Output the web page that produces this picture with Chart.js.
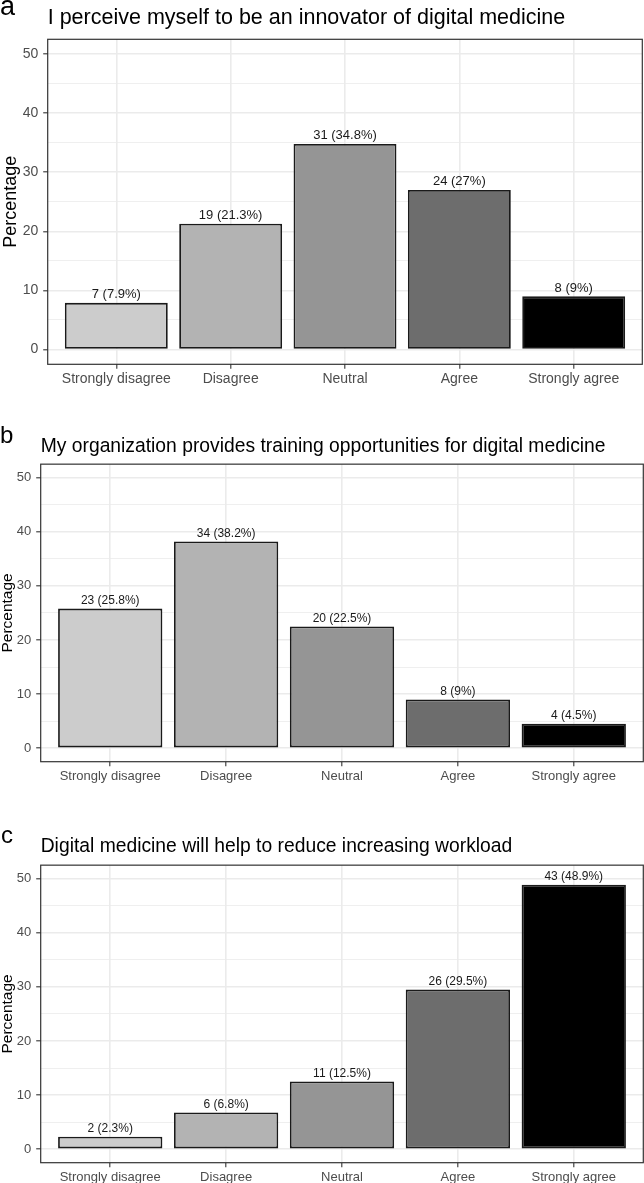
<!DOCTYPE html>
<html>
<head>
<meta charset="utf-8">
<script src="https://cdn.jsdelivr.net/npm/chart.js@4/dist/chart.umd.min.js"></script>
<style>
  body { margin: 0; background: #fff; width: 644px; height: 1183px; position: relative; overflow: hidden; }
  canvas { position: absolute; left: 0; }
</style>
</head>
<body>
<canvas id="chartA" width="644" height="392" style="top:0px"></canvas>
<canvas id="chartB" width="644" height="392" style="top:392px"></canvas>
<canvas id="chartC" width="644" height="399" style="top:784px"></canvas>
<script>
// data
const categories = ["Strongly disagree", "Disagree", "Neutral", "Agree", "Strongly agree"];
const barColors = ["#CCCCCC", "#B3B3B3", "#959595", "#6D6D6D", "#000000"];
const yTicks = [0, 10, 20, 30, 40, 50];

const titleA = "I perceive myself to be an innovator of digital medicine";
const countsA = [7, 19, 31, 24, 8];
const percentA = [7.9, 21.3, 34.8, 27, 9];

const titleB = "My organization provides training opportunities for digital medicine";
const countsB = [23, 34, 20, 8, 4];
const percentB = [25.8, 38.2, 22.5, 9, 4.5];

const titleC = "Digital medicine will help to reduce increasing workload";
const countsC = [2, 6, 11, 26, 43];
const percentC = [2.3, 6.8, 12.5, 29.5, 48.9];

const FONT = "'Liberation Sans', Arial, Helvetica, sans-serif";

// minor grid lines halfway between the major ones
const yMinor = yTicks.slice(1).map((v, i) => (v + yTicks[i]) / 2);

const panelBorder = {
  id: "panelBorder",
  afterDraw(chart) {
    const { ctx, chartArea: a } = chart;
    ctx.save();
    ctx.strokeStyle = "#333333";
    ctx.lineWidth = 1.2;
    ctx.strokeRect(a.left, a.top, a.right - a.left, a.bottom - a.top);
    ctx.restore();
  },
};

const barLabels = {
  id: "barLabels",
  afterDatasetsDraw(chart, args, opts) {
    const { ctx } = chart;
    const meta = chart.getDatasetMeta(0);
    ctx.save();
    ctx.fillStyle = "#1A1A1A";
    ctx.font = opts.size + "px " + FONT;
    ctx.textAlign = "center";
    ctx.textBaseline = "alphabetic";
    meta.data.forEach((bar, i) => {
      const text = opts.counts[i] + " (" + opts.percents[i] + "%)";
      ctx.fillText(text, bar.x, bar.y - 4.5);
    });
    ctx.restore();
  },
};

const panelLetter = {
  id: "panelLetter",
  afterDraw(chart, args, opts) {
    const { ctx } = chart;
    ctx.save();
    ctx.fillStyle = "#000";
    ctx.font = opts.size + "px " + FONT;
    ctx.textAlign = "left";
    ctx.textBaseline = "alphabetic";
    ctx.fillText(opts.letter, opts.x, opts.y);
    ctx.restore();
  },
};

function makePanel(id, title, counts, percents, look) {
  const ctx = document.getElementById(id);
  return new Chart(ctx, {
    type: "bar",
    data: {
      datasets: [
        {
          data: percents.map((p, i) => ({ x: i, y: p })),
          backgroundColor: barColors,
          borderColor: "#1A1A1A",
          borderWidth: 1.8,
          borderSkipped: false,
          categoryPercentage: 0.9,
          barPercentage: 1,
        },
      ],
    },
    options: {
      responsive: false,
      animation: false,
      layout: { padding: { top: 0, left: 0, right: look.right, bottom: 0 } },
      plugins: {
        legend: { display: false },
        tooltip: { enabled: false },
        title: {
          display: true,
          text: title,
          align: "start",
          fullSize: false,
          color: "#000",
          font: { family: FONT, size: look.titleSize, weight: "normal", lineHeight: 1.2 },
          padding: look.titlePad,
        },
        barLabels: { counts, percents, size: look.labelSize },
        panelLetter: look.letter,
      },
      scales: {
        x: {
          type: "linear",
          min: -0.6,
          max: 4.6,
          offset: false,
          afterBuildTicks: (s) => {
            s.ticks = categories.map((c, i) => ({ value: i }));
          },
          afterFit: (s) => {
            s.height = look.xHeight;
          },
          border: { display: false },
          grid: {
            offset: false,
            color: "#EBEBEB",
            lineWidth: 1.6,
            tickColor: "#333333",
            tickWidth: 1.1,
            tickLength: 4.5,
          },
          ticks: {
            autoSkip: false,
            maxRotation: 0,
            padding: 2,
            color: "#4D4D4D",
            font: { family: FONT, size: look.xTickSize },
            callback: (v) => categories[v],
          },
        },
        y: {
          min: -2.5,
          max: 52.5,
          afterBuildTicks: (s) => {
            s.ticks = yTicks.concat(yMinor).sort((a, b) => a - b).map((v) => ({ value: v }));
          },
          afterFit: (s) => {
            s.width = look.yWidth;
          },
          border: { display: false },
          grid: {
            color: "#EBEBEB",
            lineWidth: (c) => (yTicks.includes(c.tick.value) ? 1.6 : 0.8),
            tickColor: (c) => (yTicks.includes(c.tick.value) ? "#333333" : "rgba(0,0,0,0)"),
            tickWidth: 1.1,
            tickLength: 4.5,
          },
          ticks: {
            autoSkip: false,
            padding: 5,
            color: "#4D4D4D",
            font: { family: FONT, size: look.yTickSize },
            callback: (v) => (yTicks.includes(v) ? v : ""),
          },
          title: {
            display: true,
            text: "Percentage",
            color: "#000",
            font: { family: FONT, size: look.yTitleSize, lineHeight: 1 },
            padding: { top: look.yTitlePad, bottom: 0 },
          },
        },
      },
    },
    plugins: [panelBorder, barLabels, panelLetter],
  });
}

makePanel("chartA", titleA, countsA, percentA, {
  letter: { letter: "a", size: 27, x: 0, y: 15 },
  titleSize: 21.5,
  titlePad: { top: 5.6, bottom: 7.9 },
  right: 1.7,
  yWidth: 47.7,
  xHeight: 27.7,
  yTitleSize: 18,
  yTitlePad: 2,
  yTickSize: 14,
  xTickSize: 14,
  labelSize: 13,
});

makePanel("chartB", titleB, countsB, percentB, {
  letter: { letter: "b", size: 24, x: 0, y: 51.3 },
  titleSize: 19.3,
  titlePad: { top: 43, bottom: 6 },
  right: 0.7,
  yWidth: 40.7,
  xHeight: 22.3,
  yTitleSize: 15.5,
  yTitlePad: 0,
  yTickSize: 13,
  xTickSize: 13,
  labelSize: 12,
});

makePanel("chartC", titleC, countsC, percentC, {
  letter: { letter: "c", size: 24, x: 1, y: 59.3 },
  titleSize: 19.3,
  titlePad: { top: 51, bottom: 7 },
  right: 0.7,
  yWidth: 40.7,
  xHeight: 20.3,
  yTitleSize: 15.5,
  yTitlePad: 0,
  yTickSize: 13,
  xTickSize: 13,
  labelSize: 12,
});
</script>
</body>
</html>
